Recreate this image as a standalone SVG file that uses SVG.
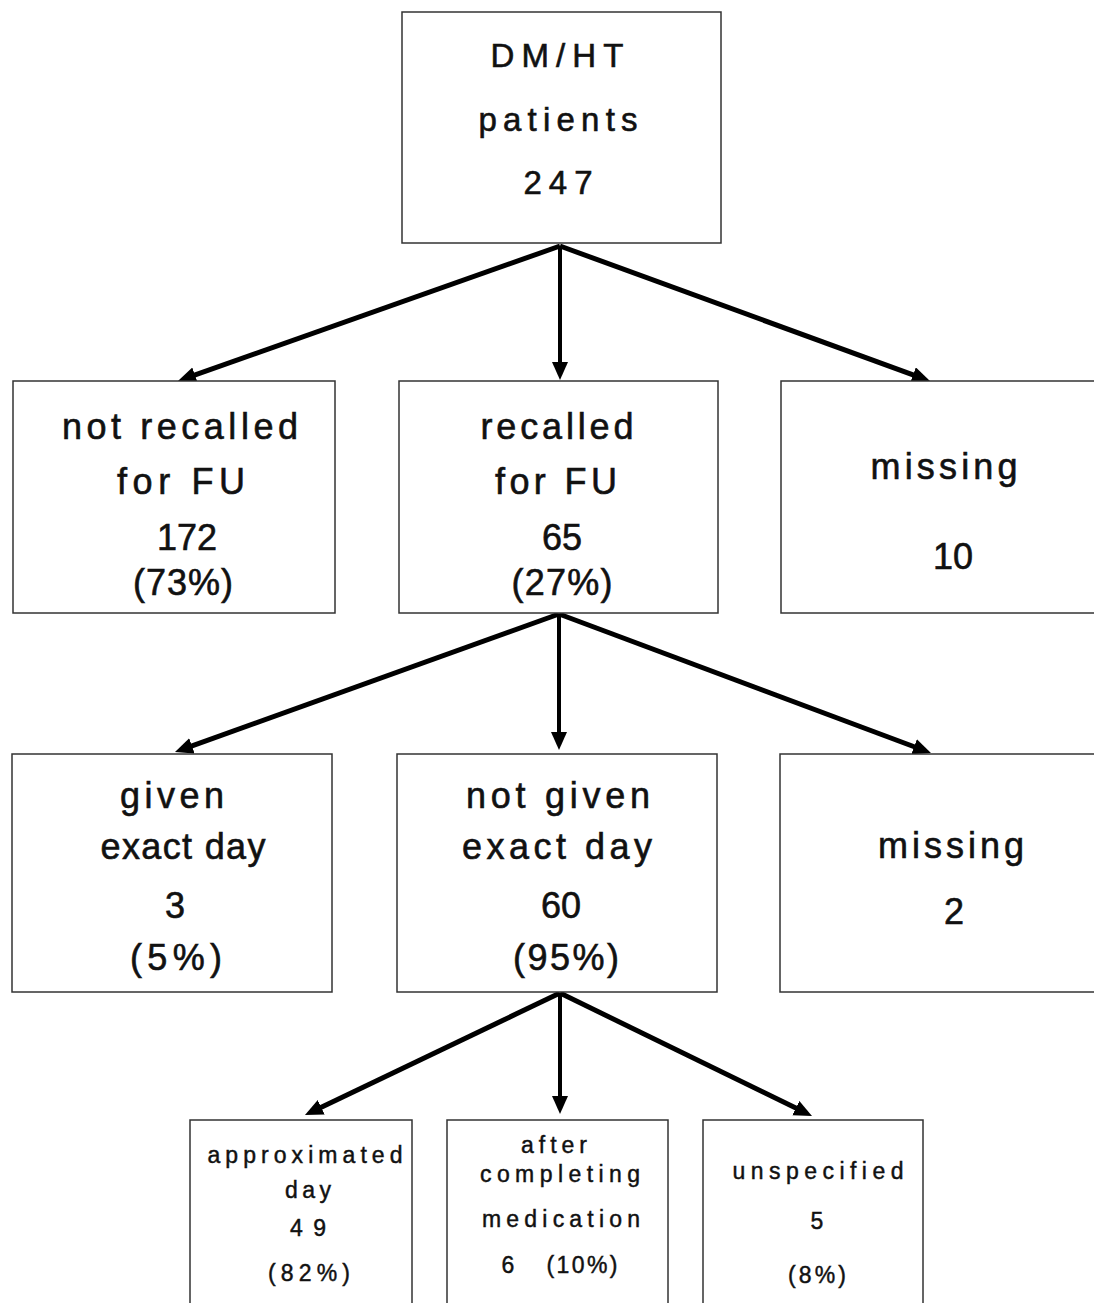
<svg xmlns="http://www.w3.org/2000/svg" width="1094" height="1303" viewBox="0 0 1094 1303">
<defs>
<style>
.box{fill:#fff;stroke:#333;stroke-width:1.5}
text{font-family:"Liberation Sans",Arial,Helvetica,sans-serif;fill:#111;stroke:#111;text-anchor:middle}
.t0{font-size:33px;stroke-width:0.6}
.t1{font-size:36px;stroke-width:0.6}
.t2{font-size:23px;stroke-width:0.45}
.diag{stroke:#000;stroke-width:5;fill:none}
.vert{stroke:#000;stroke-width:4;fill:none}
</style>
<marker id="ah" markerUnits="userSpaceOnUse" markerWidth="20" markerHeight="18" refX="8" refY="8" orient="auto">
<path d="M0,0 L18,8 L0,16 Z" fill="#000"/>
</marker>
</defs>
<rect width="1094" height="1303" fill="#fff"/>

<g id="connectors">
<line class="diag" x1="560" y1="246" x2="187.4" y2="377.7" marker-end="url(#ah)"/>
<line class="vert" x1="560" y1="246" x2="560" y2="370" marker-end="url(#ah)"/>
<line class="diag" x1="560" y1="246" x2="920.6" y2="377.6" marker-end="url(#ah)"/>
<line class="diag" x1="559" y1="614" x2="184.4" y2="748.6" marker-end="url(#ah)"/>
<line class="vert" x1="559" y1="614" x2="559" y2="740" marker-end="url(#ah)"/>
<line class="diag" x1="559" y1="614" x2="921.6" y2="749.5" marker-end="url(#ah)"/>
<line class="diag" x1="560" y1="993" x2="314" y2="1110.7" marker-end="url(#ah)"/>
<line class="vert" x1="560" y1="993" x2="560" y2="1104" marker-end="url(#ah)"/>
<line class="diag" x1="560" y1="993" x2="803" y2="1111.6" marker-end="url(#ah)"/>
</g>

<g id="n-top">
<rect class="box" x="402" y="12" width="319" height="231"/>
<text class="t0" x="557" y="67" textLength="133" lengthAdjust="spacing">DM/HT</text>
<text class="t0" x="558" y="131" textLength="159" lengthAdjust="spacing">patients</text>
<text class="t0" x="558" y="194" textLength="69" lengthAdjust="spacing">247</text>
</g>

<g id="n-notrecalled">
<rect class="box" x="13" y="381" width="322" height="232"/>
<text class="t1" x="180" y="439" textLength="236" lengthAdjust="spacing">not recalled</text>
<text class="t1" x="181" y="494" textLength="128" lengthAdjust="spacing">for FU</text>
<text class="t1" x="187" y="550">172</text>
<text class="t1" x="183" y="595" textLength="100" lengthAdjust="spacing">(73%)</text>
</g>

<g id="n-recalled">
<rect class="box" x="399" y="381" width="319" height="232"/>
<text class="t1" x="557" y="439" textLength="153" lengthAdjust="spacing">recalled</text>
<text class="t1" x="556" y="494" textLength="122" lengthAdjust="spacing">for FU</text>
<text class="t1" x="562" y="550">65</text>
<text class="t1" x="562" y="595" textLength="101" lengthAdjust="spacing">(27%)</text>
</g>

<g id="n-missing1">
<rect class="box" x="781" y="381" width="330" height="232"/>
<text class="t1" x="944" y="479" textLength="147" lengthAdjust="spacing">missing</text>
<text class="t1" x="953" y="569">10</text>
</g>

<g id="n-given">
<rect class="box" x="12" y="754" width="320" height="238"/>
<text class="t1" x="172" y="808" textLength="104" lengthAdjust="spacing">given</text>
<text class="t1" x="183" y="859" textLength="165" lengthAdjust="spacing">exact day</text>
<text class="t1" x="175" y="918">3</text>
<text class="t1" x="176" y="970" textLength="92" lengthAdjust="spacing">(5%)</text>
</g>

<g id="n-notgiven">
<rect class="box" x="397" y="754" width="320" height="238"/>
<text class="t1" x="558" y="808" textLength="184" lengthAdjust="spacing">not given</text>
<text class="t1" x="557" y="859" textLength="190" lengthAdjust="spacing">exact day</text>
<text class="t1" x="561" y="918">60</text>
<text class="t1" x="566" y="970" textLength="106" lengthAdjust="spacing">(95%)</text>
</g>

<g id="n-missing2">
<rect class="box" x="780" y="754" width="330" height="238"/>
<text class="t1" x="951" y="858" textLength="146" lengthAdjust="spacing">missing</text>
<text class="t1" x="954" y="924">2</text>
</g>

<g id="n-approx">
<rect class="box" x="190" y="1120" width="222" height="200"/>
<text class="t2" x="305" y="1163" textLength="195" lengthAdjust="spacing">approximated</text>
<text class="t2" x="308" y="1198" textLength="46" lengthAdjust="spacing">day</text>
<text class="t2" x="308" y="1236" textLength="36" lengthAdjust="spacing">49</text>
<text class="t2" x="309" y="1281" textLength="82" lengthAdjust="spacing">(82%)</text>
</g>

<g id="n-after">
<rect class="box" x="447" y="1120" width="221" height="200"/>
<text class="t2" x="554" y="1153" textLength="66" lengthAdjust="spacing">after</text>
<text class="t2" x="560" y="1182" textLength="160" lengthAdjust="spacing">completing</text>
<text class="t2" x="561" y="1227" textLength="158" lengthAdjust="spacing">medication</text>
<text class="t2" y="1273"><tspan x="508">6</tspan><tspan x="582" textLength="71" lengthAdjust="spacing">(10%)</tspan></text>
</g>

<g id="n-unspec">
<rect class="box" x="703" y="1120" width="220" height="200"/>
<text class="t2" x="818" y="1179" textLength="171" lengthAdjust="spacing">unspecified</text>
<text class="t2" x="817" y="1229">5</text>
<text class="t2" x="817" y="1283" textLength="58" lengthAdjust="spacing">(8%)</text>
</g>
</svg>
